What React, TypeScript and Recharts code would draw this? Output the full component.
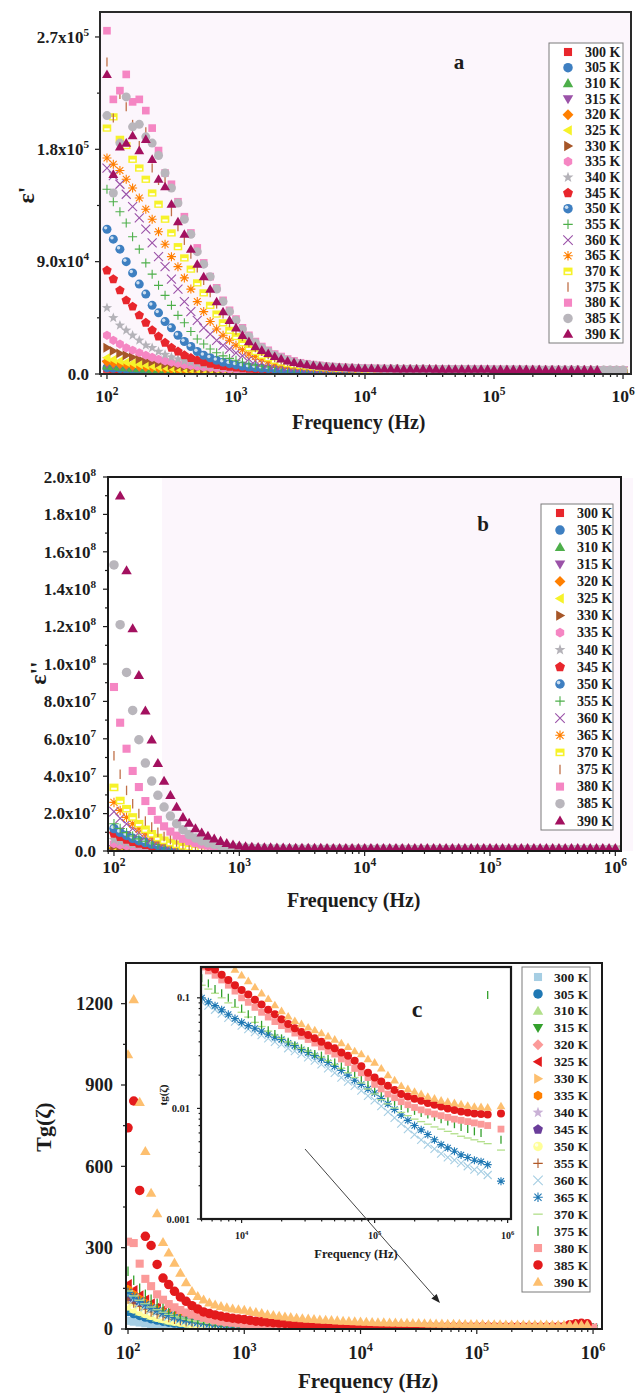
import React from 'react';
import { ScatterChart, Scatter, XAxis, YAxis } from 'recharts';

const SERIF = "'Liberation Serif', 'Times New Roman', serif";
const INK = '#1c1c1c';
const LAVENDER = '#fcf6fc';

// frequency grid, Hz (20 points per decade)
const FREQ = [
  100, 112, 126, 141, 158, 178, 200, 224, 251, 282, 316, 355, 398, 447, 501, 562, 631, 708, 794, 891,
  1000, 1122, 1259, 1413, 1585, 1778, 1995, 2239, 2512, 2818, 3162, 3548, 3981, 4467, 5012, 5623, 6310, 7079, 7943, 8913,
  10000, 11220, 12589, 14125, 15849, 17783, 19953, 22387, 25119, 28184, 31623, 35481, 39811, 44668, 50119, 56234, 63096, 70795, 79433, 89125,
  100000, 112202, 125893, 141254, 158489, 177828, 199526, 223872, 251189, 281838, 316228, 354813, 398107, 446684, 501187, 562341, 630957, 707946, 794328, 891251,
  1000000,
];

const TEMPS = ['300 K', '305 K', '310 K', '315 K', '320 K', '325 K', '330 K', '335 K', '340 K', '345 K',
  '350 K', '355 K', '360 K', '365 K', '370 K', '375 K', '380 K', '385 K', '390 K'];

// ε' in units of 10^3, one row per temperature (300 K ... 390 K)
const EPS_REAL_K = [
  [4, 3.7, 3.4, 3.2, 3, 2.8, 2.6, 2.4, 2.3, 2.1, 2, 1.9, 1.8, 1.7, 1.6, 1.5, 1.4, 1.4, 1.3, 1.3, 1.2, 1.15, 1.1, 1.1, 1.1, 1.05, 1, 1, 1, 1, 1, 0.95, 0.9, 0.9, 0.9, 0.9, 0.9, 0.9, 0.9, 0.9, 0.9, 0.9, 0.9, 0.9, 0.85, 0.85, 0.8, 0.8, 0.8, 0.8, 0.8, 0.8, 0.8, 0.8, 0.8, 0.8, 0.8, 0.8, 0.8, 0.8, 0.75, 0.75, 0.7, 0.7, 0.7, 0.7, 0.7, 0.7, 0.7, 0.7, 0.7, 0.7, 0.7, 0.7, 0.7, 0.7, 0.7, 0.7, 0.7, 0.7, 0.7],
  [5, 4.6, 4.3, 4, 3.7, 3.4, 3.2, 3, 2.8, 2.6, 2.5, 2.3, 2.2, 2.1, 2, 1.9, 1.8, 1.7, 1.6, 1.6, 1.5, 1.45, 1.4, 1.35, 1.3, 1.3, 1.3, 1.25, 1.2, 1.2, 1.2, 1.2, 1.2, 1.15, 1.1, 1.1, 1.1, 1.1, 1.1, 1.1, 1.1, 1.05, 1, 1, 1, 1, 1, 1, 1, 1, 1, 1, 1, 1, 1, 1, 0.95, 0.9, 0.9, 0.9, 0.9, 0.9, 0.9, 0.9, 0.9, 0.9, 0.9, 0.9, 0.9, 0.9, 0.9, 0.9, 0.85, 0.8, 0.8, 0.8, 0.8, 0.8, 0.8, 0.8, 0.8],
  [6.5, 6, 5.5, 5, 4.6, 4.3, 4, 3.7, 3.4, 3.2, 3, 2.8, 2.6, 2.5, 2.3, 2.2, 2.1, 2, 1.9, 1.8, 1.7, 1.65, 1.6, 1.55, 1.5, 1.45, 1.4, 1.4, 1.4, 1.35, 1.3, 1.3, 1.3, 1.3, 1.3, 1.25, 1.2, 1.2, 1.2, 1.2, 1.2, 1.2, 1.2, 1.2, 1.2, 1.15, 1.1, 1.1, 1.1, 1.1, 1.1, 1.1, 1.1, 1.1, 1.1, 1.1, 1.1, 1.05, 1, 1, 1, 1, 1, 1, 1, 1, 1, 1, 1, 1, 1, 1, 1, 0.95, 0.9, 0.9, 0.9, 0.9, 0.9, 0.9, 0.9],
  [8, 7.3, 6.7, 6.1, 5.6, 5.1, 4.7, 4.3, 4, 3.7, 3.4, 3.2, 3, 2.8, 2.6, 2.5, 2.3, 2.2, 2.1, 2, 1.9, 1.85, 1.8, 1.75, 1.7, 1.65, 1.6, 1.55, 1.5, 1.5, 1.5, 1.45, 1.4, 1.4, 1.4, 1.4, 1.4, 1.35, 1.3, 1.3, 1.3, 1.3, 1.3, 1.3, 1.3, 1.3, 1.3, 1.25, 1.2, 1.2, 1.2, 1.2, 1.2, 1.2, 1.2, 1.2, 1.2, 1.2, 1.2, 1.2, 1.1, 1.1, 1.1, 1.1, 1.1, 1.1, 1.1, 1.1, 1.1, 1.1, 1.1, 1.1, 1.1, 1.1, 1, 1, 1, 1, 1, 1, 1],
  [10, 9, 8.2, 7.5, 6.8, 6.2, 5.7, 5.2, 4.8, 4.4, 4, 3.7, 3.4, 3.2, 3, 2.8, 2.6, 2.5, 2.4, 2.3, 2.2, 2.1, 2, 1.95, 1.9, 1.85, 1.8, 1.75, 1.7, 1.65, 1.6, 1.6, 1.6, 1.55, 1.5, 1.5, 1.5, 1.5, 1.5, 1.45, 1.4, 1.4, 1.4, 1.4, 1.4, 1.4, 1.4, 1.4, 1.4, 1.35, 1.3, 1.3, 1.3, 1.3, 1.3, 1.3, 1.3, 1.3, 1.3, 1.3, 1.3, 1.25, 1.2, 1.2, 1.2, 1.2, 1.2, 1.2, 1.2, 1.2, 1.2, 1.2, 1.2, 1.2, 1.2, 1.15, 1.1, 1.1, 1.1, 1.1, 1.1],
  [13, 11.6, 10.5, 9.5, 8.6, 7.8, 7.1, 6.4, 5.8, 5.3, 4.8, 4.4, 4, 3.7, 3.4, 3.2, 3, 2.8, 2.6, 2.5, 2.4, 2.3, 2.2, 2.1, 2, 1.95, 1.9, 1.85, 1.8, 1.8, 1.8, 1.75, 1.7, 1.7, 1.7, 1.7, 1.6, 1.6, 1.6, 1.6, 1.6, 1.55, 1.5, 1.5, 1.5, 1.5, 1.5, 1.5, 1.5, 1.5, 1.5, 1.45, 1.4, 1.4, 1.4, 1.4, 1.4, 1.4, 1.4, 1.4, 1.4, 1.4, 1.4, 1.35, 1.3, 1.3, 1.3, 1.3, 1.3, 1.3, 1.3, 1.3, 1.3, 1.3, 1.3, 1.3, 1.3, 1.25, 1.2, 1.2, 1.2],
  [21, 18.5, 16.5, 15, 13.5, 12, 10.8, 9.7, 8.7, 7.8, 7, 6.3, 5.7, 5.2, 4.7, 4.3, 3.9, 3.6, 3.3, 3.1, 2.9, 2.75, 2.6, 2.5, 2.4, 2.3, 2.2, 2.15, 2.1, 2.05, 2, 1.95, 1.9, 1.9, 1.9, 1.85, 1.8, 1.8, 1.8, 1.8, 1.7, 1.7, 1.7, 1.7, 1.7, 1.7, 1.7, 1.7, 1.6, 1.6, 1.6, 1.6, 1.6, 1.6, 1.6, 1.6, 1.6, 1.55, 1.5, 1.5, 1.5, 1.5, 1.5, 1.5, 1.5, 1.5, 1.5, 1.5, 1.5, 1.5, 1.45, 1.4, 1.4, 1.4, 1.4, 1.4, 1.4, 1.4, 1.4, 1.4, 1.4],
  [31, 27, 24, 21, 19, 17, 15, 13.3, 11.8, 10.5, 9.4, 8.4, 7.5, 6.8, 6.1, 5.5, 5, 4.6, 4.2, 3.9, 3.6, 3.3, 3.1, 2.95, 2.8, 2.7, 2.6, 2.5, 2.4, 2.35, 2.3, 2.25, 2.2, 2.15, 2.1, 2.1, 2.1, 2.05, 2, 2, 2, 1.95, 1.9, 1.9, 1.9, 1.9, 1.9, 1.9, 1.9, 1.85, 1.8, 1.8, 1.8, 1.8, 1.8, 1.8, 1.8, 1.75, 1.7, 1.7, 1.7, 1.7, 1.7, 1.7, 1.7, 1.7, 1.7, 1.7, 1.7, 1.65, 1.6, 1.6, 1.6, 1.6, 1.6, 1.6, 1.6, 1.6, 1.6, 1.55, 1.5],
  [53, 45, 39, 35, 31, 27, 23, 21, 18, 15.5, 13.5, 12, 10.5, 9.3, 8.3, 7.4, 6.6, 6, 5.4, 4.9, 4.5, 4.1, 3.7, 3.45, 3.2, 3.05, 2.9, 2.8, 2.7, 2.6, 2.5, 2.45, 2.4, 2.35, 2.3, 2.25, 2.2, 2.2, 2.2, 2.15, 2.1, 2.1, 2.1, 2.1, 2.1, 2.05, 2, 2, 2, 2, 2, 2, 2, 1.95, 1.9, 1.9, 1.9, 1.9, 1.9, 1.9, 1.9, 1.85, 1.8, 1.8, 1.8, 1.8, 1.8, 1.8, 1.8, 1.8, 1.8, 1.8, 1.7, 1.7, 1.7, 1.7, 1.7, 1.7, 1.7, 1.7, 1.7],
  [83, 76, 67, 59, 54, 47, 41, 35, 30, 25, 21, 18, 15, 12.8, 11, 9.5, 8.3, 7.3, 6.5, 5.8, 5.2, 4.7, 4.2, 3.9, 3.6, 3.4, 3.2, 3.1, 3, 2.9, 2.8, 2.75, 2.7, 2.65, 2.6, 2.55, 2.5, 2.45, 2.4, 2.4, 2.4, 2.35, 2.3, 2.3, 2.3, 2.3, 2.3, 2.25, 2.2, 2.2, 2.2, 2.2, 2.2, 2.15, 2.1, 2.1, 2.1, 2.1, 2.1, 2.1, 2.1, 2.05, 2, 2, 2, 2, 2, 2, 2, 2, 2, 1.95, 1.9, 1.9, 1.9, 1.9, 1.9, 1.9, 1.9, 1.85, 1.8],
  [116, 108, 100, 90, 81, 72, 64, 55, 49, 42, 37, 31, 26, 22, 18, 15, 13, 11, 9.5, 8.3, 7.3, 6.4, 5.6, 5.1, 4.6, 4.3, 4, 3.8, 3.6, 3.45, 3.3, 3.2, 3.1, 3, 2.9, 2.85, 2.8, 2.75, 2.7, 2.65, 2.6, 2.6, 2.6, 2.55, 2.5, 2.5, 2.5, 2.45, 2.4, 2.4, 2.4, 2.4, 2.4, 2.35, 2.3, 2.3, 2.3, 2.3, 2.3, 2.3, 2.2, 2.2, 2.2, 2.2, 2.2, 2.2, 2.2, 2.2, 2.2, 2.15, 2.1, 2.1, 2.1, 2.1, 2.1, 2.1, 2.1, 2.05, 2, 2, 2],
  [148, 138, 130, 121, 110, 100, 89, 80, 71, 63, 55, 47, 41, 34, 28, 24, 20, 17, 14.5, 12.5, 11, 9.4, 8, 7.1, 6.3, 5.7, 5.2, 4.8, 4.5, 4.2, 4, 3.8, 3.6, 3.45, 3.3, 3.2, 3.1, 3.05, 3, 2.95, 2.9, 2.85, 2.8, 2.8, 2.8, 2.75, 2.7, 2.7, 2.7, 2.65, 2.6, 2.6, 2.6, 2.6, 2.6, 2.55, 2.5, 2.5, 2.5, 2.5, 2.5, 2.45, 2.4, 2.4, 2.4, 2.4, 2.4, 2.35, 2.3, 2.3, 2.3, 2.3, 2.3, 2.3, 2.3, 2.3, 2.3, 2.25, 2.2, 2.2, 2.2],
  [165, 159, 152, 144, 134, 125, 116, 105, 94, 86, 76, 68, 58, 50, 43, 37, 32, 27, 23, 20, 17, 14.5, 12, 10.5, 9, 8, 7, 6.4, 5.8, 5.4, 5, 4.7, 4.4, 4.2, 4, 3.85, 3.7, 3.6, 3.5, 3.4, 3.3, 3.25, 3.2, 3.15, 3.1, 3.1, 3.1, 3.05, 3, 3, 3, 2.95, 2.9, 2.9, 2.9, 2.85, 2.8, 2.8, 2.8, 2.8, 2.8, 2.75, 2.7, 2.7, 2.7, 2.7, 2.7, 2.65, 2.6, 2.6, 2.6, 2.6, 2.6, 2.55, 2.5, 2.5, 2.5, 2.5, 2.5, 2.45, 2.4],
  [173, 168, 163, 156, 149, 141, 132, 124, 114, 104, 94, 86, 77, 68, 58, 50, 42, 36, 31, 27, 23, 19.5, 16, 14, 12, 10.3, 8.8, 7.8, 7, 6.4, 5.9, 5.5, 5.1, 4.8, 4.5, 4.3, 4.1, 3.95, 3.8, 3.7, 3.6, 3.55, 3.5, 3.45, 3.4, 3.35, 3.3, 3.3, 3.3, 3.25, 3.2, 3.2, 3.2, 3.15, 3.1, 3.1, 3.1, 3.05, 3, 3, 3, 3, 2.9, 2.9, 2.9, 2.9, 2.9, 2.85, 2.8, 2.8, 2.8, 2.8, 2.8, 2.75, 2.7, 2.7, 2.7, 2.7, 2.7, 2.65, 2.6],
  [197, 206, 188, 183, 172, 165, 156, 145, 136, 124, 113, 102, 93, 84, 73, 65, 55, 48, 41, 35, 30, 25, 21, 18, 15, 13, 11, 9.6, 8.4, 7.5, 6.8, 6.3, 5.8, 5.45, 5.1, 4.85, 4.6, 4.45, 4.3, 4.15, 4, 3.95, 3.9, 3.85, 3.8, 3.75, 3.7, 3.65, 3.6, 3.6, 3.6, 3.55, 3.5, 3.5, 3.5, 3.45, 3.4, 3.4, 3.4, 3.4, 3.3, 3.3, 3.3, 3.25, 3.2, 3.2, 3.2, 3.15, 3.1, 3.1, 3.1, 3.05, 3, 3, 3, 3, 3, 2.95, 2.9, 2.9, 2.8],
  [250, 205, 224, 214, 200, 183, 194, 165, 155, 156, 130, 118, 107, 96, 85, 75, 65, 56, 48, 41, 35, 30, 25, 21, 18, 15.5, 13, 11.3, 9.8, 8.7, 7.8, 7.1, 6.5, 6, 5.6, 5.3, 5, 4.8, 4.6, 4.45, 4.3, 4.2, 4.1, 4.05, 4, 3.95, 3.9, 3.85, 3.8, 3.8, 3.8, 3.75, 3.7, 3.7, 3.7, 3.65, 3.6, 3.6, 3.6, 3.6, 3.5, 3.5, 3.5, 3.45, 3.4, 3.4, 3.4, 3.35, 3.3, 3.3, 3.3, 3.25, 3.2, 3.2, 3.2, 3.15, 3.1, 3.1, 3.1, 3.05, 3],
  [275, 220, 227, 240, 218, 220, 211, 197, 179, 161, 152, 138, 126, 113, 101, 89, 78, 69, 59, 51, 44, 37, 31, 26, 22, 19, 16, 14, 12, 10.5, 9, 8.2, 7.5, 6.9, 6.3, 5.9, 5.5, 5.25, 5, 4.8, 4.6, 4.5, 4.4, 4.3, 4.2, 4.15, 4.1, 4.05, 4, 3.95, 3.9, 3.85, 3.8, 3.8, 3.8, 3.75, 3.7, 3.7, 3.7, 3.7, 3.6, 3.6, 3.6, 3.55, 3.5, 3.5, 3.5, 3.45, 3.4, 3.4, 3.4, 3.35, 3.3, 3.3, 3.3, 3.25, 3.2, 3.2, 3.2, 3.15, 3.1],
  [207, 145, 185, 222, 198, 200, 190, 185, 175, 161, 149, 137, 124, 112, 98, 88, 78, 68, 58, 50, 43, 36, 30, 25, 21, 18, 15, 13, 11, 9.7, 8.5, 7.7, 7, 6.5, 6, 5.6, 5.3, 5.05, 4.8, 4.65, 4.5, 4.4, 4.3, 4.25, 4.2, 4.15, 4.1, 4.05, 4, 3.95, 3.9, 3.9, 3.9, 3.85, 3.8, 3.8, 3.8, 3.75, 3.7, 3.7, 3.7, 3.65, 3.6, 3.6, 3.6, 3.55, 3.5, 3.5, 3.5, 3.45, 3.4, 3.4, 3.4, 3.35, 3.3, 3.3, 3.3, 3.25, 3.2, 3.2, 3.2],
  [240, 160, 182, 185, 191, 179, 188, 172, 156, 150, 136, 122, 112, 100, 88, 78, 68, 58, 50, 43, 37, 31, 26, 22, 19, 16.5, 14, 12, 10.5, 9.3, 8.2, 7.5, 6.8, 6.3, 5.8, 5.5, 5.2, 5, 4.8, 4.65, 4.5, 4.4, 4.3, 4.25, 4.2, 4.15, 4.1, 4.05, 4, 4, 4, 3.95, 3.9, 3.9, 3.9, 3.85, 3.8, 3.8, 3.8, 3.8, 3.7, 3.7, 3.7, 3.65, 3.6, 3.6, 3.6, 3.55, 3.5, 3.5, 3.5, 3.45, 3.4, 3.4, 3.4, 3.35, 3.3, null, null, null, null],
];

// ε'' in units of 10^6
const EPS_IMAG_M = [
  [0.6, 0.55, 0.5, 0.46, 0.42, 0.39, 0.36, 0.34, 0.32, 0.3, 0.29, 0.28, 0.27, 0.26, 0.25, 0.25, 0.24, 0.24, 0.23, 0.23, 0.23, 0.23, 0.22, 0.22, 0.22, 0.22, 0.22, 0.22, 0.21, 0.21, 0.21, 0.21, 0.21, 0.21, 0.21, 0.21, 0.2, 0.2, 0.2, 0.2, 0.2, 0.2, 0.2, 0.2, 0.2, 0.2, 0.2, 0.2, 0.2, 0.2, 0.19, 0.19, 0.19, 0.19, 0.19, 0.19, 0.19, 0.19, 0.19, 0.19, 0.19, 0.19, 0.19, 0.19, 0.19, 0.18, 0.18, 0.18, 0.18, 0.18, 0.18, 0.18, 0.18, 0.18, 0.18, 0.18, 0.18, 0.18, 0.18, 0.18, 0.18],
  [0.8, 0.72, 0.65, 0.59, 0.54, 0.5, 0.46, 0.43, 0.4, 0.38, 0.36, 0.34, 0.33, 0.32, 0.31, 0.3, 0.29, 0.29, 0.28, 0.28, 0.27, 0.27, 0.27, 0.26, 0.26, 0.26, 0.26, 0.26, 0.26, 0.25, 0.25, 0.25, 0.25, 0.25, 0.25, 0.25, 0.25, 0.24, 0.24, 0.24, 0.24, 0.24, 0.24, 0.24, 0.24, 0.24, 0.24, 0.23, 0.23, 0.23, 0.23, 0.23, 0.23, 0.23, 0.23, 0.23, 0.23, 0.23, 0.23, 0.22, 0.22, 0.22, 0.22, 0.22, 0.22, 0.22, 0.22, 0.22, 0.22, 0.22, 0.22, 0.22, 0.22, 0.21, 0.21, 0.21, 0.21, 0.21, 0.21, 0.21, 0.21],
  [1, 0.9, 0.81, 0.73, 0.66, 0.6, 0.55, 0.51, 0.47, 0.44, 0.41, 0.39, 0.37, 0.35, 0.34, 0.33, 0.32, 0.31, 0.3, 0.3, 0.29, 0.29, 0.28, 0.28, 0.28, 0.28, 0.27, 0.27, 0.27, 0.27, 0.27, 0.26, 0.26, 0.26, 0.26, 0.26, 0.26, 0.26, 0.26, 0.26, 0.25, 0.25, 0.25, 0.25, 0.25, 0.25, 0.25, 0.25, 0.25, 0.24, 0.24, 0.24, 0.24, 0.24, 0.24, 0.24, 0.24, 0.24, 0.24, 0.24, 0.24, 0.23, 0.23, 0.23, 0.23, 0.23, 0.23, 0.23, 0.23, 0.23, 0.23, 0.23, 0.23, 0.23, 0.23, 0.22, 0.22, 0.22, 0.22, 0.22, 0.22],
  [1.2, 1.07, 0.95, 0.85, 0.77, 0.7, 0.64, 0.58, 0.54, 0.5, 0.46, 0.43, 0.41, 0.39, 0.37, 0.35, 0.34, 0.33, 0.32, 0.31, 0.3, 0.3, 0.29, 0.29, 0.29, 0.29, 0.28, 0.28, 0.28, 0.28, 0.28, 0.27, 0.27, 0.27, 0.27, 0.27, 0.27, 0.26, 0.26, 0.26, 0.26, 0.26, 0.26, 0.26, 0.26, 0.26, 0.26, 0.25, 0.25, 0.25, 0.25, 0.25, 0.25, 0.25, 0.25, 0.25, 0.25, 0.25, 0.25, 0.24, 0.24, 0.24, 0.24, 0.24, 0.24, 0.24, 0.24, 0.24, 0.24, 0.24, 0.24, 0.24, 0.24, 0.23, 0.23, 0.23, 0.23, 0.23, 0.23, 0.23, 0.23],
  [1.5, 1.32, 1.16, 1.03, 0.92, 0.82, 0.74, 0.67, 0.61, 0.56, 0.52, 0.48, 0.45, 0.42, 0.4, 0.38, 0.36, 0.35, 0.34, 0.33, 0.32, 0.31, 0.31, 0.3, 0.3, 0.3, 0.29, 0.29, 0.29, 0.29, 0.29, 0.28, 0.28, 0.28, 0.28, 0.28, 0.28, 0.27, 0.27, 0.27, 0.27, 0.27, 0.27, 0.27, 0.27, 0.27, 0.26, 0.26, 0.26, 0.26, 0.26, 0.26, 0.26, 0.26, 0.26, 0.26, 0.25, 0.25, 0.25, 0.25, 0.25, 0.25, 0.25, 0.25, 0.25, 0.25, 0.25, 0.25, 0.25, 0.25, 0.25, 0.24, 0.24, 0.24, 0.24, 0.24, 0.24, 0.24, 0.24, 0.24, 0.24],
  [2, 1.72, 1.5, 1.3, 1.14, 1, 0.89, 0.8, 0.72, 0.65, 0.59, 0.54, 0.5, 0.47, 0.44, 0.42, 0.4, 0.38, 0.37, 0.36, 0.35, 0.34, 0.33, 0.33, 0.32, 0.32, 0.31, 0.31, 0.3, 0.3, 0.3, 0.3, 0.3, 0.29, 0.29, 0.29, 0.29, 0.29, 0.29, 0.28, 0.28, 0.28, 0.28, 0.28, 0.28, 0.28, 0.28, 0.27, 0.27, 0.27, 0.27, 0.27, 0.27, 0.27, 0.27, 0.26, 0.26, 0.26, 0.26, 0.26, 0.26, 0.26, 0.26, 0.26, 0.26, 0.26, 0.26, 0.26, 0.26, 0.26, 0.25, 0.25, 0.25, 0.25, 0.25, 0.25, 0.25, 0.25, 0.25, 0.25, 0.25],
  [2.5, 2.15, 1.85, 1.6, 1.39, 1.21, 1.06, 0.94, 0.84, 0.75, 0.68, 0.62, 0.57, 0.53, 0.49, 0.46, 0.44, 0.42, 0.4, 0.38, 0.37, 0.36, 0.35, 0.35, 0.34, 0.34, 0.33, 0.33, 0.32, 0.32, 0.31, 0.31, 0.3, 0.3, 0.3, 0.3, 0.29, 0.29, 0.29, 0.29, 0.29, 0.29, 0.29, 0.29, 0.28, 0.28, 0.28, 0.28, 0.28, 0.28, 0.28, 0.28, 0.28, 0.27, 0.27, 0.27, 0.27, 0.27, 0.27, 0.27, 0.27, 0.27, 0.27, 0.27, 0.27, 0.27, 0.26, 0.26, 0.26, 0.26, 0.26, 0.26, 0.26, 0.26, 0.26, 0.26, 0.26, 0.26, 0.26, 0.26, 0.26],
  [4, 3.35, 2.8, 2.35, 1.98, 1.68, 1.43, 1.23, 1.07, 0.94, 0.83, 0.74, 0.67, 0.61, 0.56, 0.52, 0.49, 0.46, 0.44, 0.42, 0.4, 0.39, 0.38, 0.37, 0.36, 0.36, 0.35, 0.35, 0.34, 0.34, 0.33, 0.33, 0.32, 0.32, 0.32, 0.32, 0.31, 0.31, 0.31, 0.31, 0.3, 0.3, 0.3, 0.3, 0.3, 0.3, 0.3, 0.3, 0.29, 0.29, 0.29, 0.29, 0.29, 0.29, 0.29, 0.29, 0.29, 0.28, 0.28, 0.28, 0.28, 0.28, 0.28, 0.28, 0.28, 0.28, 0.28, 0.28, 0.28, 0.28, 0.27, 0.27, 0.27, 0.27, 0.27, 0.27, 0.27, 0.27, 0.27, 0.27, 0.27],
  [6, 5, 4.15, 3.45, 2.88, 2.4, 2, 1.68, 1.42, 1.21, 1.04, 0.9, 0.79, 0.7, 0.63, 0.58, 0.53, 0.5, 0.47, 0.45, 0.43, 0.41, 0.4, 0.39, 0.38, 0.37, 0.37, 0.36, 0.36, 0.35, 0.35, 0.34, 0.34, 0.33, 0.33, 0.33, 0.33, 0.32, 0.32, 0.32, 0.32, 0.32, 0.32, 0.31, 0.31, 0.31, 0.31, 0.31, 0.31, 0.31, 0.3, 0.3, 0.3, 0.3, 0.3, 0.3, 0.3, 0.3, 0.3, 0.3, 0.3, 0.3, 0.3, 0.3, 0.29, 0.29, 0.29, 0.29, 0.29, 0.29, 0.29, 0.29, 0.29, 0.29, 0.29, 0.29, 0.29, 0.28, 0.28, 0.28, 0.28],
  [9.3, 7.6, 6.2, 5, 4.05, 3.3, 2.7, 2.2, 1.82, 1.51, 1.27, 1.08, 0.93, 0.82, 0.73, 0.66, 0.6, 0.56, 0.52, 0.49, 0.47, 0.45, 0.43, 0.42, 0.41, 0.4, 0.39, 0.38, 0.38, 0.37, 0.37, 0.36, 0.36, 0.35, 0.35, 0.35, 0.35, 0.34, 0.34, 0.34, 0.34, 0.34, 0.34, 0.33, 0.33, 0.33, 0.33, 0.33, 0.33, 0.33, 0.32, 0.32, 0.32, 0.32, 0.32, 0.32, 0.32, 0.32, 0.32, 0.32, 0.32, 0.31, 0.31, 0.31, 0.31, 0.31, 0.31, 0.31, 0.31, 0.31, 0.31, 0.31, 0.31, 0.3, 0.3, 0.3, 0.3, 0.3, 0.3, 0.3, 0.3],
  [12, 10, 8.3, 6.8, 5.5, 4.5, 3.65, 2.98, 2.43, 2, 1.65, 1.38, 1.17, 1, 0.88, 0.78, 0.7, 0.64, 0.59, 0.55, 0.52, 0.49, 0.47, 0.45, 0.44, 0.43, 0.42, 0.41, 0.4, 0.39, 0.39, 0.38, 0.38, 0.37, 0.37, 0.36, 0.36, 0.36, 0.36, 0.35, 0.35, 0.35, 0.35, 0.35, 0.35, 0.34, 0.34, 0.34, 0.34, 0.34, 0.34, 0.34, 0.33, 0.33, 0.33, 0.33, 0.33, 0.33, 0.33, 0.33, 0.33, 0.33, 0.33, 0.33, 0.32, 0.32, 0.32, 0.32, 0.32, 0.32, 0.32, 0.32, 0.32, 0.32, 0.32, 0.32, 0.31, 0.31, 0.31, 0.31, 0.31],
  [14.6, 12, 9.8, 8, 6.5, 5.25, 4.25, 3.45, 2.8, 2.28, 1.87, 1.55, 1.3, 1.1, 0.95, 0.83, 0.74, 0.67, 0.61, 0.57, 0.54, 0.51, 0.49, 0.47, 0.45, 0.44, 0.43, 0.42, 0.41, 0.4, 0.4, 0.39, 0.39, 0.38, 0.38, 0.37, 0.37, 0.37, 0.37, 0.36, 0.36, 0.36, 0.36, 0.36, 0.36, 0.35, 0.35, 0.35, 0.35, 0.35, 0.35, 0.35, 0.34, 0.34, 0.34, 0.34, 0.34, 0.34, 0.34, 0.34, 0.34, 0.34, 0.34, 0.34, 0.33, 0.33, 0.33, 0.33, 0.33, 0.33, 0.33, 0.33, 0.33, 0.33, 0.33, 0.33, 0.32, 0.32, 0.32, 0.32, 0.32],
  [21, 17.5, 14.5, 12, 9.8, 7.9, 6.3, 5, 3.95, 3.12, 2.48, 1.98, 1.6, 1.32, 1.11, 0.95, 0.83, 0.74, 0.67, 0.62, 0.58, 0.55, 0.52, 0.5, 0.48, 0.47, 0.45, 0.44, 0.43, 0.42, 0.41, 0.41, 0.4, 0.4, 0.39, 0.39, 0.38, 0.38, 0.38, 0.38, 0.37, 0.37, 0.37, 0.37, 0.37, 0.37, 0.36, 0.36, 0.36, 0.36, 0.36, 0.36, 0.36, 0.35, 0.35, 0.35, 0.35, 0.35, 0.35, 0.35, 0.35, 0.35, 0.35, 0.35, 0.34, 0.34, 0.34, 0.34, 0.34, 0.34, 0.34, 0.34, 0.34, 0.34, 0.34, 0.34, 0.33, 0.33, 0.33, 0.33, 0.33],
  [26, 21.7, 18, 14.6, 11.9, 9.6, 7.7, 6.1, 4.8, 3.8, 3, 2.4, 1.93, 1.57, 1.3, 1.1, 0.95, 0.84, 0.75, 0.68, 0.63, 0.59, 0.56, 0.53, 0.51, 0.49, 0.48, 0.46, 0.45, 0.44, 0.43, 0.43, 0.42, 0.41, 0.41, 0.4, 0.4, 0.39, 0.39, 0.39, 0.39, 0.38, 0.38, 0.38, 0.38, 0.38, 0.38, 0.37, 0.37, 0.37, 0.37, 0.37, 0.37, 0.37, 0.36, 0.36, 0.36, 0.36, 0.36, 0.36, 0.36, 0.36, 0.36, 0.36, 0.36, 0.36, 0.35, 0.35, 0.35, 0.35, 0.35, 0.35, 0.35, 0.35, 0.35, 0.35, 0.35, 0.35, 0.35, 0.34, 0.34],
  [34, 27, 22.6, 18.2, 14.6, 11.6, 9.2, 7.2, 5.7, 4.5, 3.55, 2.8, 2.25, 1.82, 1.5, 1.26, 1.08, 0.95, 0.84, 0.76, 0.7, 0.65, 0.61, 0.58, 0.55, 0.53, 0.51, 0.49, 0.48, 0.47, 0.46, 0.45, 0.44, 0.43, 0.43, 0.42, 0.42, 0.41, 0.41, 0.41, 0.41, 0.4, 0.4, 0.4, 0.4, 0.39, 0.39, 0.39, 0.39, 0.39, 0.39, 0.39, 0.39, 0.38, 0.38, 0.38, 0.38, 0.38, 0.38, 0.38, 0.38, 0.38, 0.37, 0.37, 0.37, 0.37, 0.37, 0.37, 0.37, 0.37, 0.37, 0.37, 0.37, 0.37, 0.36, 0.36, 0.36, 0.36, 0.36, 0.36, 0.36],
  [51, 41, 32.4, 25.3, 20, 16, 12.8, 10, 7.8, 6.1, 4.8, 3.8, 3, 2.45, 2, 1.67, 1.42, 1.23, 1.08, 0.97, 0.88, 0.8, 0.74, 0.69, 0.65, 0.62, 0.59, 0.57, 0.55, 0.53, 0.52, 0.51, 0.5, 0.49, 0.48, 0.47, 0.47, 0.46, 0.46, 0.45, 0.45, 0.45, 0.44, 0.44, 0.44, 0.44, 0.43, 0.43, 0.43, 0.43, 0.43, 0.42, 0.42, 0.42, 0.42, 0.42, 0.42, 0.42, 0.41, 0.41, 0.41, 0.41, 0.41, 0.41, 0.41, 0.41, 0.41, 0.4, 0.4, 0.4, 0.4, 0.4, 0.4, 0.4, 0.4, 0.4, 0.4, 0.39, 0.39, 0.39, 0.39],
  [87.7, 68.6, 54.7, 42.8, 34.2, 26.7, 21.4, 16.7, 13.2, 10.4, 8.2, 6.5, 5.2, 4.2, 3.45, 2.85, 2.4, 2.05, 1.78, 1.57, 1.4, 1.26, 1.15, 1.06, 0.98, 0.92, 0.87, 0.83, 0.79, 0.76, 0.73, 0.71, 0.69, 0.67, 0.66, 0.64, 0.63, 0.62, 0.61, 0.6, 0.6, 0.59, 0.59, 0.58, 0.58, 0.57, 0.57, 0.56, 0.56, 0.56, 0.56, 0.55, 0.55, 0.55, 0.55, 0.54, 0.54, 0.54, 0.54, 0.54, 0.54, 0.53, 0.53, 0.53, 0.53, 0.53, 0.53, 0.52, 0.52, 0.52, 0.52, 0.52, 0.52, 0.52, 0.52, 0.51, 0.51, 0.51, 0.51, 0.51, 0.51],
  [153, 121, 95.5, 75.2, 59.5, 47, 37.4, 29.8, 23.5, 18.7, 14.6, 11.4, 8.8, 6.9, 5.4, 4.3, 3.5, 2.9, 2.5, 2.2, 1.95, 1.76, 1.62, 1.51, 1.42, 1.35, 1.3, 1.26, 1.22, 1.19, 1.16, 1.14, 1.12, 1.1, 1.09, 1.08, 1.07, 1.06, 1.05, 1.04, 1.04, 1.03, 1.03, 1.02, 1.02, 1.01, 1.01, 1, 1, 1, 1, 0.99, 0.99, 0.99, 0.99, 0.98, 0.98, 0.98, 0.98, 0.98, 0.98, 0.97, 0.97, 0.97, 0.97, 0.97, 0.97, 0.96, 0.96, 0.96, 0.96, 0.96, 0.96, 0.96, 0.96, 0.95, 0.95, 0.95, 0.95, 0.95, 0.95],
  [240, 190, 150, 119, 94, 75, 59.5, 47, 37.4, 29.8, 23.5, 18, 15, 12, 9.8, 8, 6.6, 5.3, 4.2, 3.4, 2.8, 2.45, 2.2, 2.03, 1.9, 1.82, 1.75, 1.7, 1.65, 1.62, 1.6, 1.58, 1.57, 1.56, 1.55, 1.54, 1.53, 1.53, 1.52, 1.52, 1.51, 1.51, 1.5, 1.5, 1.5, 1.5, 1.49, 1.49, 1.49, 1.49, 1.48, 1.48, 1.48, 1.48, 1.47, 1.47, 1.47, 1.47, 1.47, 1.47, 1.46, 1.46, 1.46, 1.46, 1.46, 1.46, 1.45, 1.45, 1.45, 1.45, 1.45, 1.45, 1.45, 1.45, 1.44, 1.44, 1.44, 1.44, 1.44, 1.44, 1.44],
];

// Tg(ζ)
const TAN_DELTA = [
  [30, 27, 24, 21, 18.5, 16.5, 14.5, 12.8, 11.3, 10, 8.8, 7.8, 6.9, 6.1, 5.4, 4.8, 4.3, 3.9, 3.5, 3.2, 2.9, 2.7, 2.5, 2.35, 2.2, 2.1, 2, 1.9, 1.8, 1.75, 1.7, 1.65, 1.6, 1.55, 1.5, 1.5, 1.5, 1.45, 1.4, 1.4, 1.4, 1.4, 1.4, 1.35, 1.3, 1.3, 1.3, 1.3, 1.3, 1.3, 1.3, 1.25, 1.2, 1.2, 1.2, 1.2, 1.2, 1.2, 1.2, 1.2, 1.2, 1.2, 1.2, 1.2, 1.1, 1.1, 1.1, 1.1, 1.1, 1.1, 1.1, 1.1, 1.1, 1.1, 1.1, 1.1, 1, 1, 1, 1, 1],
  [65, 57, 50, 44, 38, 33, 29, 25, 22, 19, 16.5, 14.5, 12.5, 11, 9.6, 8.4, 7.4, 6.6, 5.9, 5.3, 4.8, 4.4, 4.1, 3.8, 3.6, 3.4, 3.2, 3.1, 3, 2.9, 2.8, 2.7, 2.6, 2.55, 2.5, 2.45, 2.4, 2.35, 2.3, 2.3, 2.3, 2.25, 2.2, 2.2, 2.2, 2.2, 2.2, 2.15, 2.1, 2.1, 2.1, 2.1, 2.1, 2.05, 2, 2, 2, 2, 2, 2, 2, 2, 1.9, 1.9, 1.9, 1.9, 1.9, 1.9, 1.9, 1.9, 1.9, 1.9, 1.8, 1.8, 1.8, 1.8, 1.8, 1.8, 1.8, 1.8, 1.8],
  [85, 74, 64, 56, 48, 42, 36, 31, 27, 24, 21, 18, 15.5, 13.5, 11.8, 10.3, 9, 8, 7.1, 6.4, 5.8, 5.3, 4.9, 4.6, 4.3, 4, 3.8, 3.6, 3.5, 3.35, 3.2, 3.1, 3, 2.95, 2.9, 2.85, 2.8, 2.75, 2.7, 2.65, 2.6, 2.6, 2.6, 2.55, 2.5, 2.5, 2.5, 2.45, 2.4, 2.4, 2.4, 2.4, 2.4, 2.35, 2.3, 2.3, 2.3, 2.3, 2.3, 2.3, 2.2, 2.2, 2.2, 2.2, 2.2, 2.2, 2.2, 2.2, 2.2, 2.2, 2.1, 2.1, 2.1, 2.1, 2.1, 2.1, 2.1, 2.1, 2.1, 2, 2],
  [95, 83, 72, 62, 54, 47, 41, 35, 31, 27, 23, 20, 17.5, 15.2, 13.3, 11.6, 10.2, 9, 8, 7.2, 6.5, 5.9, 5.4, 5, 4.7, 4.4, 4.2, 4, 3.8, 3.65, 3.5, 3.4, 3.3, 3.2, 3.1, 3.05, 3, 2.95, 2.9, 2.85, 2.8, 2.75, 2.7, 2.7, 2.7, 2.65, 2.6, 2.6, 2.6, 2.55, 2.5, 2.5, 2.5, 2.5, 2.5, 2.45, 2.4, 2.4, 2.4, 2.4, 2.4, 2.35, 2.3, 2.3, 2.3, 2.3, 2.3, 2.3, 2.3, 2.25, 2.2, 2.2, 2.2, 2.2, 2.2, 2.2, 2.2, 2.2, 2.2, 2.15, 2.1],
  [110, 96, 83, 72, 63, 54, 47, 41, 35, 31, 27, 23, 20, 17.5, 15, 13.2, 11.6, 10.2, 9, 8, 7.3, 6.6, 6, 5.6, 5.2, 4.9, 4.6, 4.35, 4.1, 3.95, 3.8, 3.65, 3.5, 3.4, 3.3, 3.25, 3.2, 3.15, 3.1, 3.05, 3, 2.95, 2.9, 2.85, 2.8, 2.8, 2.8, 2.75, 2.7, 2.7, 2.7, 2.65, 2.6, 2.6, 2.6, 2.6, 2.6, 2.55, 2.5, 2.5, 2.5, 2.5, 2.5, 2.5, 2.5, 2.45, 2.4, 2.4, 2.4, 2.4, 2.4, 2.4, 2.4, 2.35, 2.3, 2.3, 2.3, 2.3, 2.3, 2.3, 2.3],
  [165, 143, 124, 108, 94, 81, 70, 61, 53, 46, 40, 35, 30, 26, 23, 20, 17.5, 15.5, 13.5, 12, 10.8, 9.7, 8.8, 8.1, 7.4, 6.9, 6.4, 6, 5.6, 5.3, 5, 4.8, 4.6, 4.45, 4.3, 4.15, 4, 3.9, 3.8, 3.75, 3.7, 3.65, 3.6, 3.55, 3.5, 3.45, 3.4, 3.35, 3.3, 3.3, 3.3, 3.25, 3.2, 3.2, 3.2, 3.15, 3.1, 3.1, 3.1, 3.1, 3, 3, 3, 3, 3, 3, 3, 2.95, 2.9, 2.9, 2.9, 2.9, 2.9, 2.85, 2.8, 2.8, 2.8, 2.8, 2.8, 2.75, 2.7],
  [150, 131, 114, 99, 86, 75, 65, 56, 49, 42, 37, 32, 28, 24, 21, 18.5, 16, 14, 12.5, 11.2, 10, 9, 8.2, 7.5, 6.9, 6.4, 6, 5.6, 5.3, 5, 4.8, 4.6, 4.4, 4.25, 4.1, 4, 3.9, 3.8, 3.7, 3.65, 3.6, 3.55, 3.5, 3.45, 3.4, 3.35, 3.3, 3.25, 3.2, 3.2, 3.2, 3.15, 3.1, 3.1, 3.1, 3.05, 3, 3, 3, 3, 2.9, 2.9, 2.9, 2.9, 2.9, 2.85, 2.8, 2.8, 2.8, 2.8, 2.8, 2.75, 2.7, 2.7, 2.7, 2.7, 2.7, 2.7, 2.7, 2.65, 2.6],
  [145, 126, 109, 95, 82, 71, 61, 53, 46, 40, 35, 30, 26, 23, 20, 17.5, 15.5, 13.5, 12, 10.8, 9.7, 8.8, 8, 7.4, 6.8, 6.3, 5.9, 5.5, 5.2, 4.95, 4.7, 4.5, 4.3, 4.15, 4, 3.9, 3.8, 3.7, 3.6, 3.55, 3.5, 3.45, 3.4, 3.35, 3.3, 3.25, 3.2, 3.2, 3.2, 3.15, 3.1, 3.1, 3.1, 3.05, 3, 3, 3, 2.95, 2.9, 2.9, 2.9, 2.9, 2.9, 2.85, 2.8, 2.8, 2.8, 2.8, 2.8, 2.75, 2.7, 2.7, 2.7, 2.7, 2.7, 2.7, 2.7, 2.65, 2.6, 2.6, 2.6],
  [100, 87, 76, 66, 57, 50, 43, 37, 32, 28, 24, 21, 18.5, 16, 14, 12.5, 11, 9.8, 8.8, 8, 7.3, 6.7, 6.1, 5.7, 5.3, 5, 4.7, 4.45, 4.2, 4.05, 3.9, 3.75, 3.6, 3.5, 3.4, 3.35, 3.3, 3.25, 3.2, 3.15, 3.1, 3.05, 3, 2.95, 2.9, 2.9, 2.9, 2.85, 2.8, 2.8, 2.8, 2.75, 2.7, 2.7, 2.7, 2.65, 2.6, 2.6, 2.6, 2.6, 2.6, 2.55, 2.5, 2.5, 2.5, 2.5, 2.5, 2.5, 2.5, 2.45, 2.4, 2.4, 2.4, 2.4, 2.4, 2.4, 2.4, 2.4, 2.4, 2.35, 2.3],
  [120, 104, 90, 78, 68, 59, 51, 44, 38, 33, 29, 25, 22, 19, 17, 15, 13, 11.5, 10, 9, 8.2, 7.5, 6.8, 6.3, 5.8, 5.45, 5.1, 4.85, 4.6, 4.4, 4.2, 4.05, 3.9, 3.8, 3.7, 3.6, 3.5, 3.45, 3.4, 3.35, 3.3, 3.25, 3.2, 3.15, 3.1, 3.05, 3, 3, 3, 2.95, 2.9, 2.9, 2.9, 2.85, 2.8, 2.8, 2.8, 2.8, 2.8, 2.8, 2.7, 2.7, 2.7, 2.7, 2.7, 2.7, 2.6, 2.6, 2.6, 2.6, 2.6, 2.6, 2.6, 2.6, 2.5, 2.5, 2.5, 2.5, 2.5, 2.5, 2.5],
  [85, 74, 65, 57, 50, 43, 38, 33, 29, 25, 22, 19, 17, 15, 13, 11.5, 10, 9, 8, 7.2, 6.5, 6, 5.5, 5.1, 4.8, 4.55, 4.3, 4.1, 3.9, 3.75, 3.6, 3.5, 3.4, 3.3, 3.2, 3.15, 3.1, 3.05, 3, 2.95, 2.9, 2.85, 2.8, 2.8, 2.8, 2.75, 2.7, 2.7, 2.7, 2.65, 2.6, 2.6, 2.6, 2.55, 2.5, 2.5, 2.5, 2.5, 2.5, 2.5, 2.4, 2.4, 2.4, 2.4, 2.4, 2.4, 2.4, 2.4, 2.4, 2.35, 2.3, 2.3, 2.3, 2.3, 2.3, 2.3, 2.3, 2.25, 2.2, 2.2, 2.2],
  [110, 96, 84, 73, 63, 55, 48, 42, 36, 31, 27, 24, 21, 18, 16, 14, 12, 11, 9.5, 8.5, 7.8, 7.1, 6.5, 6, 5.6, 5.25, 4.9, 4.65, 4.4, 4.25, 4.1, 3.95, 3.8, 3.7, 3.6, 3.5, 3.4, 3.35, 3.3, 3.25, 3.2, 3.15, 3.1, 3.05, 3, 3, 3, 2.95, 2.9, 2.9, 2.9, 2.85, 2.8, 2.8, 2.8, 2.75, 2.7, 2.7, 2.7, 2.7, 2.7, 2.65, 2.6, 2.6, 2.6, 2.6, 2.6, 2.55, 2.5, 2.5, 2.5, 2.5, 2.5, 2.5, 2.5, 2.45, 2.4, 2.4, 2.4, 2.4, 2.4],
  [125, 109, 95, 83, 72, 63, 55, 48, 42, 36, 31, 27, 24, 21, 18, 16, 14, 12.5, 11, 10, 9, 8.2, 7.5, 6.9, 6.4, 6, 5.6, 5.3, 5, 4.8, 4.6, 4.45, 4.3, 4.15, 4, 3.9, 3.8, 3.7, 3.6, 3.55, 3.5, 3.45, 3.4, 3.35, 3.3, 3.25, 3.2, 3.2, 3.2, 3.15, 3.1, 3.1, 3.1, 3.05, 3, 3, 3, 2.95, 2.9, 2.9, 2.9, 2.9, 2.9, 2.9, 2.9, 2.85, 2.8, 2.8, 2.8, 2.8, 2.8, 2.75, 2.7, 2.7, 2.7, 2.7, 2.7, 2.7, 2.7, 2.65, 2.6],
  [135, 118, 103, 90, 78, 68, 59, 51, 44, 38, 33, 29, 25, 22, 19, 17, 15, 13, 11.5, 10.5, 9.5, 8.6, 7.8, 7.2, 6.6, 6.2, 5.8, 5.5, 5.2, 4.95, 4.7, 4.55, 4.4, 4.25, 4.1, 4, 3.9, 3.8, 3.7, 3.65, 3.6, 3.55, 3.5, 3.45, 3.4, 3.35, 3.3, 3.3, 3.3, 3.25, 3.2, 3.2, 3.2, 3.15, 3.1, 3.1, 3.1, 3.05, 3, 3, 3, 3, 3, 3, 3, 2.95, 2.9, 2.9, 2.9, 2.9, 2.9, 2.85, 2.8, 2.8, 2.8, 2.8, 2.8, 2.8, 2.8, 2.75, 2.7],
  [140, 122, 106, 93, 81, 71, 62, 54, 47, 41, 36, 31, 27, 24, 21, 18.5, 16.5, 14.5, 13, 11.5, 10.5, 9.4, 8.5, 7.8, 7.2, 6.7, 6.3, 5.9, 5.6, 5.35, 5.1, 4.9, 4.7, 4.55, 4.4, 4.3, 4.2, 4.1, 4, 3.95, 3.9, 3.85, 3.8, 3.75, 3.7, 3.65, 3.6, 3.55, 3.5, 3.5, 3.5, 3.45, 3.4, 3.4, 3.4, 3.35, 3.3, 3.3, 3.3, 3.3, 3.2, 3.2, 3.2, 3.2, 3.2, 3.15, 3.1, 3.1, 3.1, 3.1, 3.1, 3.05, 3, 3, 3, 3, 3, 3, 3, 2.95, 2.9],
  [213, 180, 150, 128, 110, 95, 82, 71, 62, 54, 47, 41, 36, 32, 28, 25, 22, 20, 18, 16, 14.5, 13.2, 12, 11, 10, 9.2, 8.5, 8, 7.5, 7.1, 6.8, 6.5, 6.2, 5.95, 5.7, 5.5, 5.3, 5.15, 5, 4.9, 4.8, 4.7, 4.6, 4.55, 4.5, 4.45, 4.4, 4.35, 4.3, 4.25, 4.2, 4.15, 4.1, 4.05, 4, 4, 4, 3.95, 3.9, 3.9, 3.9, 3.85, 3.8, 3.8, 3.8, 3.8, 3.8, 3.75, 3.7, 3.7, 3.7, 3.7, 3.7, 3.65, 3.6, 3.6, 3.6, 3.6, 3.6, 3.55, 3.5],
  [322, 317, 241, 185, 158, 128, 108, 92, 80, 70, 61, 53, 47, 41, 36, 32, 28, 25, 23, 21, 19, 17.5, 16, 14.7, 13.5, 12.7, 12, 11.2, 10.5, 10, 9.5, 9, 8.5, 8.2, 8, 7.7, 7.5, 7.2, 7, 6.7, 6.5, 6.4, 6.3, 6.15, 6, 5.9, 5.8, 5.7, 5.6, 5.55, 5.5, 5.45, 5.4, 5.35, 5.3, 5.25, 5.2, 5.15, 5.1, 5.05, 5, 5, 5, 4.95, 4.9, 4.9, 4.9, 4.85, 4.8, 4.8, 4.8, 4.75, 4.7, 4.7, 4.7, 4.7, 4.7, 4.65, 4.6, 4.6, 4.6],
  [742, 841, 511, 342, 308, 238, 188, 164, 139, 118, 102, 86, 74, 63, 57, 52, 47, 43, 40, 37, 35, 32, 29, 27, 25, 23.5, 22, 20.5, 19, 18, 17, 16, 15, 14.2, 13.5, 12.7, 12, 11.5, 11, 10.7, 10.5, 10.2, 10, 9.7, 9.5, 9.2, 9, 9, 9, 8.7, 8.5, 8.5, 8.5, 8.2, 8, 8, 8, 8, 8, 8, 8, 8, 8, 8, 7.5, 7.5, 7.5, 7.5, 7.5, 7.5, 7.5, 7.5, 7.5, 7.5, 8, 8.5, 16, 19, 21, 19, null],
  [1013, 1216, 837, 656, 502, 426, 320, 281, 244, 207, 172, 139, 121, 108, 97, 90, 84, 79, 75, 72, 70, 66, 62, 58, 54, 51, 48, 45, 43, 41, 39, 37.5, 36, 34.5, 33, 32, 31, 30, 29, 28, 27, 26, 25, 24.5, 24, 23.5, 23, 22.5, 22, 21.5, 21, 20.5, 20, 19.5, 19, 18.7, 18.5, 18.2, 18, 17.7, 17.5, 17.2, 17, 16.7, 16.5, 16.2, 16, 16, 16, 15.7, 15.5, 15.5, 15.5, 15.2, 15, 15, 15, 15, 15, 15, null],
];

// inset: tg(ζ) of 360 K ... 390 K at high frequency
const INSET_FREQ = [5012, 5623, 6310, 7079, 7943, 8913,
  10000, 11220, 12589, 14125, 15849, 17783, 19953, 22387, 25119, 28184, 31623, 35481, 39811, 44668, 50119, 56234, 63096, 70795, 79433, 89125,
  100000, 112202, 125893, 141254, 158489, 177828, 199526, 223872, 251189, 281838, 316228, 354813, 398107, 446684, 501187, 562341, 630957, 707946,
  891251];
const INSET_FIRST = 12; // 360 K is row 12 of TEMPS
const INSET_TAN = [
  [0.092, 0.085, 0.078, 0.072, 0.066, 0.061, 0.056, 0.052, 0.049, 0.046, 0.043, 0.04, 0.038, 0.035, 0.033, 0.031, 0.029, 0.027, 0.025, 0.023, 0.021, 0.019, 0.0175, 0.016, 0.0145, 0.013, 0.0118, 0.0105, 0.0093, 0.0082, 0.0073, 0.0065, 0.0058, 0.0052, 0.0047, 0.0043, 0.0039, 0.0036, 0.0034, 0.0032, 0.003, 0.0028, 0.0027, 0.0025, null],
  [0.1, 0.092, 0.085, 0.078, 0.071, 0.065, 0.06, 0.056, 0.053, 0.05, 0.047, 0.044, 0.042, 0.039, 0.037, 0.034, 0.032, 0.03, 0.028, 0.026, 0.024, 0.022, 0.02, 0.018, 0.0165, 0.015, 0.0138, 0.0123, 0.011, 0.0098, 0.0087, 0.0078, 0.007, 0.0064, 0.0058, 0.0052, 0.0047, 0.0044, 0.0041, 0.0038, 0.0036, 0.0034, 0.0033, 0.0031, 0.0022],
  [0.13, 0.12, 0.11, 0.1, 0.09, 0.082, 0.074, 0.067, 0.06, 0.055, 0.05, 0.046, 0.043, 0.04, 0.038, 0.035, 0.033, 0.031, 0.029, 0.027, 0.025, 0.023, 0.021, 0.019, 0.017, 0.015, 0.0135, 0.012, 0.011, 0.0101, 0.0092, 0.0086, 0.008, 0.0076, 0.0072, 0.0068, 0.0065, 0.0062, 0.0059, 0.0056, 0.0054, 0.0052, 0.005, 0.0048, 0.0042],
  [0.15, 0.135, 0.12, 0.11, 0.1, 0.09, 0.08, 0.071, 0.063, 0.057, 0.051, 0.047, 0.043, 0.04, 0.037, 0.035, 0.033, 0.031, 0.03, 0.028, 0.026, 0.024, 0.023, 0.021, 0.019, 0.017, 0.015, 0.0137, 0.0125, 0.0115, 0.0105, 0.01, 0.0095, 0.0091, 0.0088, 0.0084, 0.008, 0.0076, 0.0072, 0.0068, 0.0065, 0.0062, 0.006, 0.106, 0.0052],
  [0.19, 0.175, 0.16, 0.145, 0.13, 0.115, 0.1, 0.091, 0.082, 0.074, 0.067, 0.061, 0.056, 0.052, 0.048, 0.045, 0.042, 0.039, 0.036, 0.033, 0.031, 0.028, 0.026, 0.023, 0.021, 0.019, 0.0165, 0.015, 0.0135, 0.0125, 0.0115, 0.0108, 0.0102, 0.0097, 0.0093, 0.0089, 0.0086, 0.0083, 0.008, 0.0078, 0.0076, 0.0074, 0.0072, 0.007, 0.0065],
  [0.2, 0.19, 0.18, 0.162, 0.145, 0.13, 0.118, 0.107, 0.096, 0.087, 0.078, 0.071, 0.064, 0.058, 0.053, 0.049, 0.046, 0.043, 0.04, 0.037, 0.035, 0.032, 0.03, 0.027, 0.024, 0.021, 0.019, 0.0175, 0.016, 0.0147, 0.0135, 0.0128, 0.0122, 0.0117, 0.0112, 0.0108, 0.0104, 0.01, 0.0097, 0.0094, 0.0092, 0.009, 0.0089, 0.0088, 0.009],
  [0.28, 0.255, 0.23, 0.215, 0.2, 0.18, 0.16, 0.142, 0.125, 0.11, 0.098, 0.086, 0.076, 0.068, 0.062, 0.058, 0.054, 0.051, 0.048, 0.045, 0.042, 0.039, 0.036, 0.033, 0.031, 0.028, 0.026, 0.023, 0.02, 0.018, 0.016, 0.015, 0.0142, 0.0135, 0.0128, 0.0123, 0.0118, 0.0115, 0.0112, 0.0109, 0.0106, 0.0104, 0.0103, 0.0102, 0.0105],
];

// ticks
const X_MAJOR = [100, 1000, 10000, 100000, 1000000];
const X_MAJOR_LABELS = ['10^2', '10^3', '10^4', '10^5', '10^6'];
const X_MINOR = [90, 200, 300, 400, 500, 600, 700, 800, 900, 2000, 3000, 4000, 5000, 6000, 7000, 8000, 9000,
  20000, 30000, 40000, 50000, 60000, 70000, 80000, 90000, 200000, 300000, 400000, 500000, 600000, 700000, 800000, 900000];
const Y_TICKS_A = [0, 45, 90, 135, 180, 225, 270];
const Y_LABELS_A = ['0.0', '', '9.0x10^4', '', '1.8x10^5', '', '2.7x10^5'];
const Y_TICKS_B = [0, 10, 20, 30, 40, 50, 60, 70, 80, 90, 100, 110, 120, 130, 140, 150, 160, 170, 180, 190, 200];
const Y_LABELS_B = ['0.0', '', '2.0x10^7', '', '4.0x10^7', '', '6.0x10^7', '', '8.0x10^7', '', '1.0x10^8', '',
  '1.2x10^8', '', '1.4x10^8', '', '1.6x10^8', '', '1.8x10^8', '', '2.0x10^8'];
const Y_TICKS_C = [0, 150, 300, 450, 600, 750, 900, 1050, 1200];
const Y_LABELS_C = ['0', '', '300', '', '600', '', '900', '', '1200'];
const INSET_X_TICKS = [5000, 6000, 7000, 8000, 9000, 10000, 20000, 30000, 40000, 50000, 60000, 70000, 80000, 90000,
  100000, 200000, 300000, 400000, 500000, 600000, 700000, 800000, 900000, 1000000];
const INSET_X_LABELS = ['', '', '', '', '', '10^4', '', '', '', '', '', '', '', '', '10^5', '', '', '', '', '', '', '', '', '10^6'];
const INSET_Y_TICKS = [0.001, 0.002, 0.003, 0.004, 0.005, 0.006, 0.007, 0.008, 0.009, 0.01, 0.02, 0.03, 0.04,
  0.05, 0.06, 0.07, 0.08, 0.09, 0.1];
const INSET_Y_LABELS = ['0.001', '', '', '', '', '', '', '', '', '0.01', '', '', '', '', '', '', '', '', '0.1'];

// Set1-like colours (panels a, b) and Paired colours (panel c)
const COLORS_AB = ['#e8262c', '#3e7fc1', '#4daf4a', '#9b52a8', '#ff7f00', '#f6f22a', '#a65628', '#f586c3', '#b4b2b8',
  '#e8262c', '#3e7fc1', '#4daf4a', '#9b52a8', '#ff7f00', '#f6f22a', '#c07048', '#f586c3', '#b9b6bc', '#a3105f'];
const COLORS_C = ['#a6cee3', '#1f78b4', '#b2df8a', '#33a02c', '#fb9a99', '#e31a1c', '#fdbf6f', '#ff7f00', '#cab2d6',
  '#6a3d9a', '#ffff99', '#b15928', '#a6cee3', '#1f78b4', '#b2df8a', '#33a02c', '#fb9a99', '#e31a1c', '#fdbf6f'];
const KINDS_AB = ['square', 'circle', 'triUp', 'triDown', 'diamond', 'triLeft', 'triRight', 'hexagon', 'star', 'pentagon',
  'sphere', 'plus', 'cross', 'asterisk', 'halfbox', 'vbar', 'square', 'circle', 'triUp'];
const KINDS_C = ['square', 'circle', 'triUp', 'triDown', 'diamond', 'triLeft', 'triRight', 'hexagon', 'star', 'pentagon',
  'sphere', 'plus', 'cross', 'asterisk', 'hbar', 'vbar', 'square', 'circle', 'triUp'];

function regular(x: number, y: number, r: number, n: number, rot: number) {
  const pts: string[] = [];
  for (let i = 0; i < n; i++) {
    const a = rot + (i * 2 * Math.PI) / n;
    pts.push(`${x + r * Math.cos(a)},${y + r * Math.sin(a)}`);
  }
  return pts.join(' ');
}

function starPoints(x: number, y: number, ro: number, ri: number) {
  const pts: string[] = [];
  for (let i = 0; i < 10; i++) {
    const a = -Math.PI / 2 + (i * Math.PI) / 5;
    const r = i % 2 === 0 ? ro : ri;
    pts.push(`${x + r * Math.cos(a)},${y + r * Math.sin(a)}`);
  }
  return pts.join(' ');
}

function Marker({ kind, x, y, s, color }: { kind: string; x: number; y: number; s: number; color: string }) {
  if (x == null || y == null || Number.isNaN(x) || Number.isNaN(y)) return null;
  const h = s / 2;
  switch (kind) {
    case 'square':
      return <rect x={x - h * 0.85} y={y - h * 0.85} width={s * 0.85} height={s * 0.85} fill={color} />;
    case 'circle':
      return <circle cx={x} cy={y} r={h} fill={color} />;
    case 'triUp':
      return <polygon points={`${x},${y - h * 1.1} ${x + h * 1.1},${y + h * 0.8} ${x - h * 1.1},${y + h * 0.8}`} fill={color} />;
    case 'triDown':
      return <polygon points={`${x},${y + h * 1.1} ${x + h * 1.1},${y - h * 0.8} ${x - h * 1.1},${y - h * 0.8}`} fill={color} />;
    case 'triLeft':
      return <polygon points={`${x - h * 1.1},${y} ${x + h * 0.8},${y - h * 1.1} ${x + h * 0.8},${y + h * 1.1}`} fill={color} />;
    case 'triRight':
      return <polygon points={`${x + h * 1.1},${y} ${x - h * 0.8},${y - h * 1.1} ${x - h * 0.8},${y + h * 1.1}`} fill={color} />;
    case 'diamond':
      return <polygon points={`${x},${y - h * 1.15} ${x + h * 1.15},${y} ${x},${y + h * 1.15} ${x - h * 1.15},${y}`} fill={color} />;
    case 'hexagon':
      return <polygon points={regular(x, y, h * 1.02, 6, Math.PI / 6)} fill={color} />;
    case 'pentagon':
      return <polygon points={regular(x, y, h * 1.1, 5, -Math.PI / 2)} fill={color} />;
    case 'star':
      return <polygon points={starPoints(x, y, h * 1.2, h * 0.5)} fill={color} />;
    case 'sphere':
      return (
        <g>
          <circle cx={x} cy={y} r={h} fill={color} />
          <circle cx={x - h * 0.3} cy={y - h * 0.3} r={h * 0.38} fill="#ffffff" opacity={0.75} />
        </g>
      );
    case 'plus':
      return <path d={`M${x - h} ${y}H${x + h}M${x} ${y - h}V${y + h}`} stroke={color} strokeWidth={1.1} />;
    case 'cross':
      return <path d={`M${x - h} ${y - h}L${x + h} ${y + h}M${x - h} ${y + h}L${x + h} ${y - h}`} stroke={color} strokeWidth={1.1} />;
    case 'asterisk':
      return (
        <g>
          <path
            d={`M${x - h} ${y}H${x + h}M${x} ${y - h}V${y + h}M${x - h * 0.75} ${y - h * 0.75}L${x + h * 0.75} ${y + h * 0.75}M${x - h * 0.75} ${y + h * 0.75}L${x + h * 0.75} ${y - h * 0.75}`}
            stroke={color}
            strokeWidth={1.1}
          />
          <circle cx={x} cy={y} r={1.1} fill={color} />
        </g>
      );
    case 'halfbox':
      return (
        <g>
          <rect x={x - h * 0.95} y={y - h * 0.8} width={s * 0.95} height={s * 0.8} fill={color} />
          <rect x={x - h * 0.6} y={y + h * 0.05} width={s * 0.6} height={h * 0.45} fill="#ffffff" />
        </g>
      );
    case 'vbar':
      return <line x1={x} x2={x} y1={y - h} y2={y + h} stroke={color} strokeWidth={1.3} />;
    case 'hbar':
      return <line x1={x - h} x2={x + h} y1={y} y2={y} stroke={color} strokeWidth={1.3} />;
    default:
      return null;
  }
}

function SupText({ x, y, text, fs, anchor }: { x: number; y: number; text: string; fs: number; anchor: string }) {
  const [base, sup] = text.split('^');
  return (
    <text x={x} y={y} textAnchor={anchor as any} fontSize={fs} fontWeight="bold" fontFamily={SERIF} fill={INK}>
      {base}
      {sup !== undefined && (
        <tspan dy={-fs * 0.42} fontSize={fs * 0.66}>
          {sup}
        </tspan>
      )}
    </text>
  );
}

function XTick(props: any) {
  const { x, y, payload, labels, majors, fs, gap, len } = props;
  const i = majors.indexOf(payload.value);
  const lab = i >= 0 ? labels[i] : '';
  return (
    <g>
      <line x1={x} x2={x} y1={y} y2={y + (lab ? len : len * 0.6)} stroke={INK} strokeWidth={1.2} />
      {lab ? <SupText x={x} y={y + gap} text={lab} fs={fs} anchor="middle" /> : null}
    </g>
  );
}

function YTick(props: any) {
  const { x, y, payload, ticks, labels, fs, gap, len } = props;
  const i = ticks.indexOf(payload.value);
  const lab = i >= 0 ? labels[i] : '';
  return (
    <g>
      <line x1={x} x2={x - (lab ? len : len * 0.6)} y1={y} y2={y} stroke={INK} strokeWidth={1.2} />
      {lab ? <SupText x={x - gap} y={y + fs * 0.34} text={lab} fs={fs} anchor="end" /> : null}
    </g>
  );
}

type PanelProps = {
  top: number;
  left?: number;
  width: number;
  height: number;
  margin: { top: number; right: number; bottom: number; left: number };
  yWidth: number;
  xDomain: [number, number];
  yDomain: [number, number];
  yLog?: boolean;
  xTicks: number[];
  xMajors: number[];
  xLabels: string[];
  yTicks: number[];
  yLabels: string[];
  freq: number[];
  rows: (number | null)[][];
  kinds: string[];
  colors: string[];
  size: number;
  xFs: number;
  xGap: number;
  yFs: number;
  yGap: number;
  tickLen: number;
};

function Panel(p: PanelProps) {
  const series = p.rows.map((row) =>
    p.freq.map((f, i) => ({ f, v: row[i] })).filter((d) => d.v !== null && d.v !== undefined),
  );
  return (
    <div style={{ position: 'absolute', left: p.left ?? 0, top: p.top }}>
      <ScatterChart width={p.width} height={p.height} margin={p.margin}>
        <XAxis
          dataKey="f"
          type="number"
          scale="log"
          domain={p.xDomain}
          allowDataOverflow
          ticks={p.xTicks}
          interval={0}
          axisLine={false}
          tickLine={false}
          tickSize={0}
          tickMargin={0}
          height={20}
          tick={(tp: any) => (
            <XTick {...tp} labels={p.xLabels} majors={p.xMajors} fs={p.xFs} gap={p.xGap} len={p.tickLen} />
          )}
        />
        <YAxis
          dataKey="v"
          type="number"
          scale={p.yLog ? 'log' : 'linear'}
          domain={p.yDomain}
          allowDataOverflow
          ticks={p.yTicks}
          interval={0}
          axisLine={false}
          tickLine={false}
          tickSize={0}
          tickMargin={0}
          width={p.yWidth}
          tick={(tp: any) => (
            <YTick {...tp} ticks={p.yTicks} labels={p.yLabels} fs={p.yFs} gap={p.yGap} len={p.tickLen} />
          )}
        />
        {series.map((data, k) => (
          <Scatter
            key={k}
            data={data}
            isAnimationActive={false}
            shape={(sp: any) => <Marker kind={p.kinds[k]} x={sp.cx} y={sp.cy} s={p.size} color={p.colors[k]} />}
          />
        ))}
      </ScatterChart>
    </div>
  );
}

function Legend({ x, y, w, h, y0, dy, mx, tx, fs, kinds, colors, labels }: any) {
  return (
    <g>
      <rect x={x} y={y} width={w} height={h} fill="#ffffff" stroke="#7a7a7a" strokeWidth={1} />
      {labels.map((t: string, i: number) => (
        <g key={t}>
          <Marker kind={kinds[i]} x={mx} y={y0 + i * dy} s={9.5} color={colors[i]} />
          <text x={tx} y={y0 + i * dy + fs * 0.34} fontSize={fs} fontWeight="bold" fontFamily={SERIF} fill={INK}>
            {t}
          </text>
        </g>
      ))}
    </g>
  );
}

function Title({ x, y, text, fs, rotate, anchor = 'start' }: any) {
  return (
    <text
      x={x}
      y={y}
      fontSize={fs}
      fontWeight="bold"
      fontFamily={SERIF}
      fill={INK}
      textAnchor={anchor}
      transform={rotate ? `rotate(-90 ${x} ${y})` : undefined}
    >
      {text}
    </text>
  );
}

export default function App() {
  return (
    <div style={{ position: 'relative', width: 636, height: 1394, background: '#ffffff', overflow: 'hidden' }}>
      <style>{'body{margin:0}'}</style>

      {/* plot backgrounds */}
      <div style={{ position: 'absolute', left: 100, top: 12, width: 531, height: 362, background: LAVENDER }} />
      <div style={{ position: 'absolute', left: 162, top: 478, width: 471, height: 373, background: LAVENDER }} />

      {/* (a) real permittivity */}
      <Panel
        top={0}
        width={636}
        height={440}
        margin={{ top: 12, right: 5, bottom: 46, left: 20 }}
        yWidth={80}
        xDomain={[88.3, 1153000]}
        yDomain={[0, 290]}
        xTicks={[...X_MAJOR, ...X_MINOR]}
        xMajors={X_MAJOR}
        xLabels={X_MAJOR_LABELS}
        yTicks={Y_TICKS_A}
        yLabels={Y_LABELS_A}
        freq={FREQ}
        rows={EPS_REAL_K}
        kinds={KINDS_AB}
        colors={COLORS_AB}
        size={9}
        xFs={17.5}
        xGap={28}
        yFs={17}
        yGap={11}
        tickLen={5}
      />

      {/* (b) imaginary permittivity */}
      <Panel
        top={460}
        width={636}
        height={440}
        margin={{ top: 17, right: 15, bottom: 29, left: 28 }}
        yWidth={80}
        xDomain={[89.6, 1110000]}
        yDomain={[0, 200]}
        xTicks={[...X_MAJOR, ...X_MINOR]}
        xMajors={X_MAJOR}
        xLabels={X_MAJOR_LABELS}
        yTicks={Y_TICKS_B}
        yLabels={Y_LABELS_B}
        freq={FREQ}
        rows={EPS_IMAG_M}
        kinds={KINDS_AB}
        colors={COLORS_AB}
        size={9.5}
        xFs={17.5}
        xGap={22}
        yFs={17}
        yGap={12}
        tickLen={5}
      />

      {/* (c) loss tangent */}
      <Panel
        top={950}
        width={636}
        height={440}
        margin={{ top: 13, right: 34, bottom: 41, left: 46 }}
        yWidth={80}
        xDomain={[96.1, 1194000]}
        yDomain={[0, 1350]}
        xTicks={[...X_MAJOR, ...X_MINOR.slice(1)]}
        xMajors={X_MAJOR}
        xLabels={X_MAJOR_LABELS}
        yTicks={Y_TICKS_C}
        yLabels={Y_LABELS_C}
        freq={FREQ}
        rows={TAN_DELTA}
        kinds={KINDS_C}
        colors={COLORS_C}
        size={9.5}
        xFs={18.5}
        xGap={30}
        yFs={18.5}
        yGap={13}
        tickLen={5}
      />

      {/* inset */}
      <div style={{ position: 'absolute', left: 201, top: 967, width: 310, height: 252, background: '#ffffff' }} />
      <Panel
        top={955}
        left={140}
        width={380}
        height={300}
        margin={{ top: 12, right: 9, bottom: 16, left: 21 }}
        yWidth={40}
        xDomain={[4950, 1060000]}
        yDomain={[0.001, 0.19]}
        yLog
        xTicks={INSET_X_TICKS}
        xMajors={INSET_X_TICKS}
        xLabels={INSET_X_LABELS}
        yTicks={INSET_Y_TICKS}
        yLabels={INSET_Y_LABELS}
        freq={INSET_FREQ}
        rows={INSET_TAN}
        kinds={KINDS_C.slice(INSET_FIRST)}
        colors={COLORS_C.slice(INSET_FIRST)}
        size={8}
        xFs={10}
        xGap={20}
        yFs={10.5}
        yGap={11}
        tickLen={4}
      />

      <svg width={636} height={1394} style={{ position: 'absolute', left: 0, top: 0, pointerEvents: 'none' }}>
        {/* frames */}
        <rect x={100} y={12} width={531} height={362} fill="none" stroke="#2a2a2a" strokeWidth={2} />
        <rect x={108} y={477} width={513} height={374} fill="none" stroke="#1a1a1a" strokeWidth={2} />
        <rect x={126} y={963} width={476} height={366} fill="none" stroke="#1a1a1a" strokeWidth={2} />
        <rect x={201} y={967} width={310} height={252} fill="none" stroke="#1a1a1a" strokeWidth={2.2} />

        {/* panel letters */}
        <Title x={459} y={69} text="a" fs={21} anchor="middle" />
        <Title x={483} y={531} text="b" fs={21} anchor="middle" />
        <Title x={417} y={1017} text="c" fs={24} anchor="middle" />

        {/* axis titles */}
        <Title x={34} y={195} text="ε'" fs={24} rotate anchor="middle" />
        <Title x={292} y={429} text="Frequency (Hz)" fs={20} />
        <Title x={46} y={673} text="ε''" fs={24} rotate anchor="middle" />
        <Title x={287} y={907} text="Frequency (Hz)" fs={20} />
        <Title x={51} y={1127} text="Tg(ζ)" fs={22} rotate anchor="middle" />
        <Title x={298} y={1388} text="Frequency (Hz)" fs={21} />
        <Title x={167} y={1095} text="tg(ζ)" fs={11} rotate anchor="middle" />
        <Title x={356} y={1258} text="Frequency (Hz)" fs={12.5} anchor="middle" />

        {/* legends */}
        <Legend x={549} y={43} w={74} h={300} y0={52} dy={15.67} mx={568} tx={585} fs={14}
          kinds={KINDS_AB} colors={COLORS_AB} labels={TEMPS} />
        <Legend x={541} y={504} w={72} h={326} y0={513} dy={17.1} mx={560} tx={577} fs={14}
          kinds={KINDS_AB} colors={COLORS_AB} labels={TEMPS} />
        <Legend x={522} y={967} w={68} h={325} y0={977} dy={16.94} mx={538} tx={554} fs={13.5}
          kinds={KINDS_C} colors={COLORS_C} labels={TEMPS} />

        {/* arrow */}
        <line x1={305} y1={1149} x2={434} y2={1296} stroke="#444" strokeWidth={1} />
        <polygon points="440,1303 431.4,1298.5 436.7,1293.9" fill="#222" />
      </svg>
    </div>
  );
}
